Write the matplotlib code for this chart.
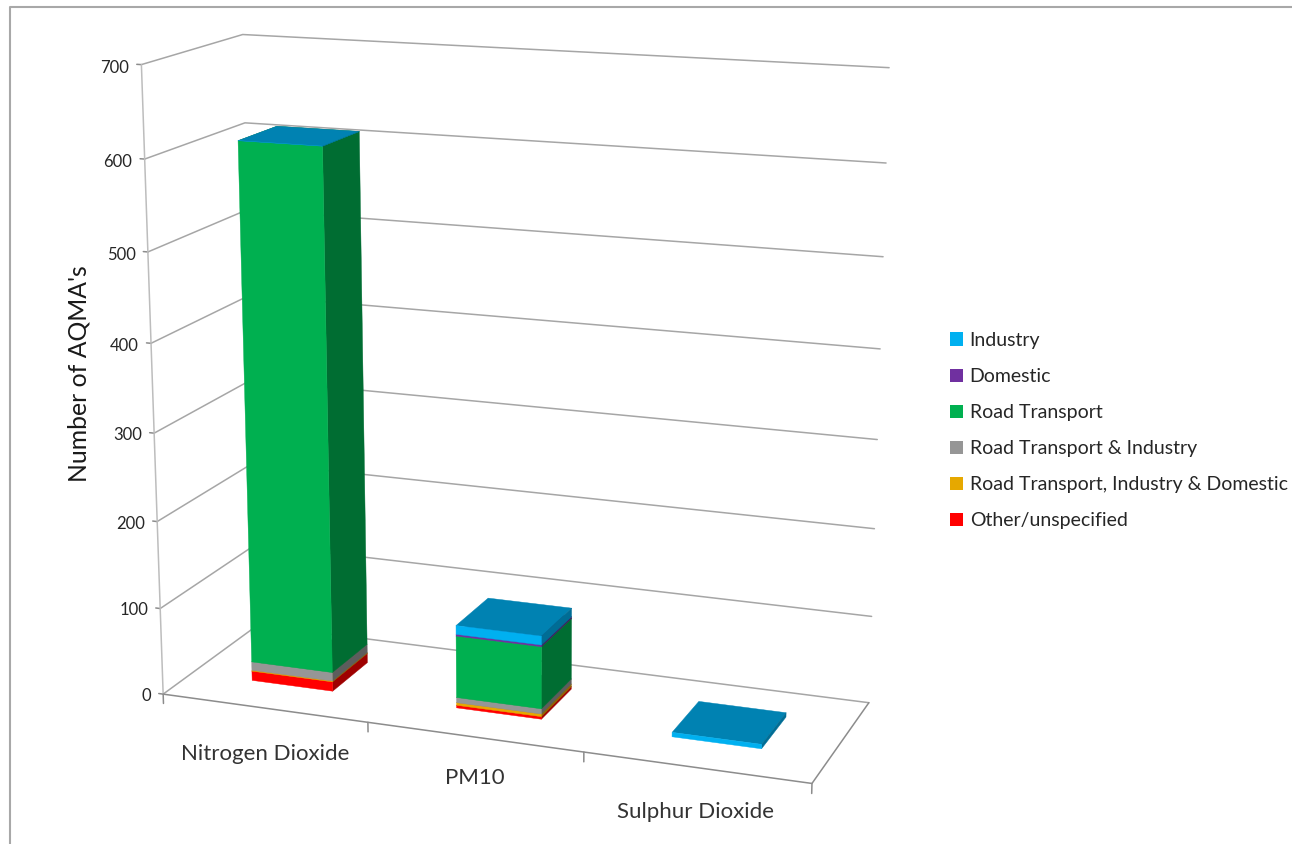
import numpy as np
import matplotlib
matplotlib.use('Agg')
import matplotlib.pyplot as plt
from matplotlib.colors import to_rgb
from matplotlib.lines import Line2D
from matplotlib.patches import Patch
from mpl_toolkits.mplot3d import proj3d

plt.rcParams['font.family'] = ['Lato', 'DejaVu Sans']

categories = ['Nitrogen Dioxide', 'PM10', 'Sulphur Dioxide']
z_ticks = [0, 100, 200, 300, 400, 500, 600, 700]

# stacked from the floor upwards
other = [11, 3, 0]
road_ind_dom = [1, 3, 0]
road_ind = [10, 6, 0]
road = [590, 71, 0]
domestic = [0, 2, 0]
industry = [0, 10, 5]

series = [other, road_ind_dom, road_ind, road, domestic, industry]
names = ['Other/unspecified', 'Road Transport, Industry & Domestic', 'Road Transport & Industry',
         'Road Transport', 'Domestic', 'Industry']
colours = ['#FF0000', '#E6A800', '#969696', '#00B050', '#7030A0', '#00B0F0']

GRID = '#A6A6A6'
W, H = 1292, 844
side = 948.71

fig = plt.figure(figsize=(W / 100, H / 100), dpi=100)
ax = fig.add_axes([26.79 / W, -34.57 / H, side / W, side / H], projection='3d')
ax.patch.set_alpha(0)
ax.set_axis_off()
ax.computed_zorder = False
ax.view_init(elev=14.8366, azim=-69.5481, roll=0.0863)
ax.set_proj_type('persp', focal_length=0.5647)
ax.set_box_aspect((3.029, 1, 2.869), zoom=1)
ax.set_xticks([])
ax.set_yticks([])
ax.set_zticks([])


def set_limits():
    ax.set_xlim(0, 3, view_margin=0)
    ax.set_ylim(0, 1, view_margin=0)
    ax.set_zlim(0, 700, view_margin=0)


def line(xs, ys, zs, color=GRID, lw=1.1):
    ax.plot(xs, ys, zs, color=color, lw=lw, zorder=1, solid_capstyle='round')


def label_at(x, y, z, text, **kwargs):
    # flat text anchored at a projected data point
    u, v, _ = proj3d.proj_transform(x, y, z, ax.get_proj())
    pos = fig.transFigure.inverted().transform(ax.transData.transform((u, v)))
    fig.text(pos[0], pos[1], text, **kwargs)


set_limits()
ax.apply_aspect()

# walls: gridlines run along the side wall and then the back wall
for z in z_ticks:
    line([0, 0, 3], [0, 1, 1], [z, z, z])
    line([-0.022, 0], [0, 0], [z, z], color='#8C8C8C')
    label_at(-0.06, 0, z - 4, str(z), ha='right', va='center', fontsize=12, color='#262626')

line([0, 0], [0, 0], [0, 700], color='#BDBDBD')
line([0, 3, 3], [0, 0, 1], [0, 0, 0], color='#8C8C8C')
for k in range(4):
    line([k, k], [0, 0], [0, -11], color='#8C8C8C')

label_drop = [54, 47, 50]
for k, name in enumerate(categories):
    label_at(k + 0.5, 0, -label_drop[k], name, ha='center', va='center', fontsize=16, color='#333333')

# stacked bars, only the three faces that can be seen
clear = (0, 0, 0, 0)
for k in range(len(categories)):
    base = 0
    for j, values in enumerate(series):
        # the top series always caps the stack, even with no height of its own
        if values[k] == 0 and j < len(series) - 1:
            continue
        rgb = np.array(to_rgb(colours[j]))
        faces = [clear, (*(rgb * 0.74), 1), (*rgb, 1), clear, clear, (*(rgb * 0.62), 1)]
        ax.bar3d([k + 0.3], [0.3], [base], [0.4], [0.4], [values[k]], color=faces, edgecolor=faces,
                 linewidth=0.3, shade=False, zorder=10 + j)
        base += values[k]

set_limits()

fig.text(79 / W, 1 - 374 / H, "Number of AQMA's", rotation=90, ha='center', va='center',
         fontsize=17.8, color='#1A1A1A')

handles = [Patch(facecolor=c, edgecolor='none') for c in colours[::-1]]
fig.legend(handles, names[::-1], loc='upper left', bbox_to_anchor=(942 / W, 1 - 324 / H), frameon=False,
           fontsize=14.05, labelcolor='#262626', handlelength=0.66, handleheight=0.66, handletextpad=0.36,
           labelspacing=0.98, borderpad=0.4, borderaxespad=0)

# page frame, open on the right and at the bottom
fig.add_artist(Line2D([9.5 / W, 9.5 / W, 1], [0, 1 - 6.5 / H, 1 - 6.5 / H], color='#A8A8A8', lw=1.5,
                      transform=fig.transFigure))

fig.savefig('out.png', dpi=100)
